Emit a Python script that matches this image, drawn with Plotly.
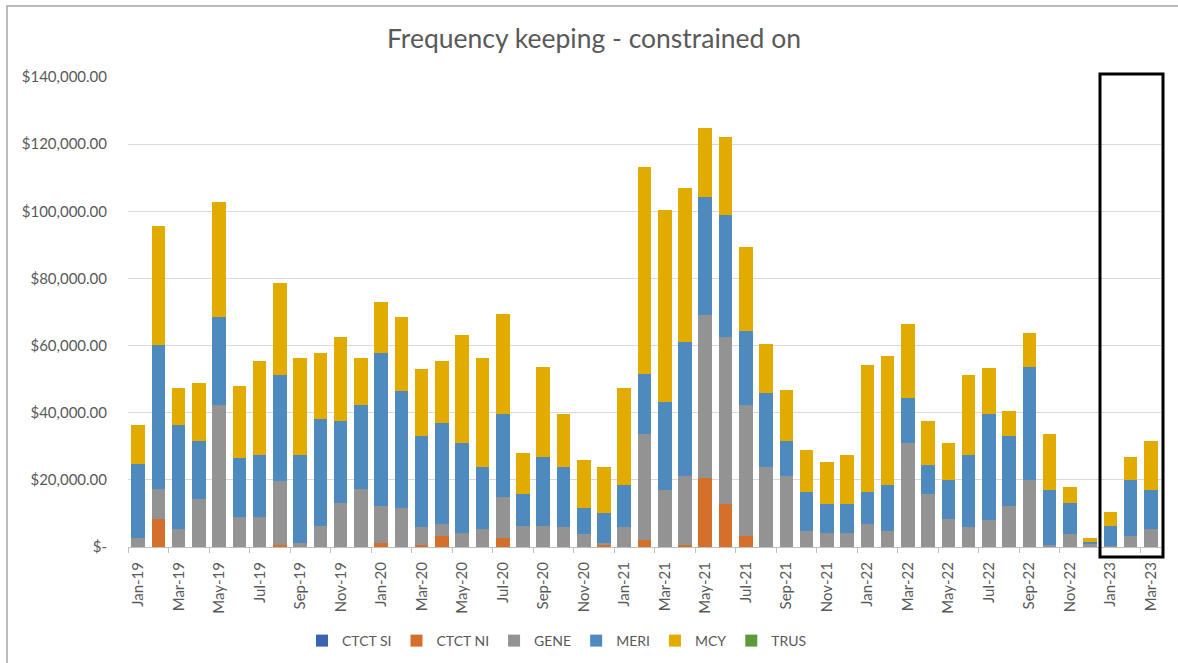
import plotly.graph_objects as go

months = ["Jan-19","Feb-19","Mar-19","Apr-19","May-19","Jun-19","Jul-19","Aug-19","Sep-19","Oct-19","Nov-19","Dec-19",
          "Jan-20","Feb-20","Mar-20","Apr-20","May-20","Jun-20","Jul-20","Aug-20","Sep-20","Oct-20","Nov-20","Dec-20",
          "Jan-21","Feb-21","Mar-21","Apr-21","May-21","Jun-21","Jul-21","Aug-21","Sep-21","Oct-21","Nov-21","Dec-21",
          "Jan-22","Feb-22","Mar-22","Apr-22","May-22","Jun-22","Jul-22","Aug-22","Sep-22","Oct-22","Nov-22","Dec-22",
          "Jan-23","Feb-23","Mar-23"]

ctct_si = [0]*51
ctct_ni = [0, 8400, 0, 0, 0, 0, 0, 600, 0, 0, 0, 0,
           1200, 0, 600, 3200, 0, 0, 2600, 0, 0, 0, 0, 600,
           0, 2200, 0, 600, 20500, 12700, 3200, 0, 0, 0, 0, 0,
           0, 0, 0, 0, 0, 0, 0, 0, 0, 0, 0, 0,
           0, 0, 0]
gene = [2600, 9000, 5300, 14300, 42200, 9000, 9000, 19000, 1200, 6400, 13200, 17400,
        11000, 11600, 5300, 3700, 4300, 5300, 12200, 6300, 6300, 5900, 3800, 500,
        5900, 31600, 16900, 20500, 48500, 49900, 39000, 23800, 21100, 4800, 4300, 4300,
        6900, 4800, 31100, 15900, 8400, 5900, 7900, 12200, 20000, 600, 3800, 800,
        300, 3200, 5300]
meri = [22200, 42700, 31000, 17400, 26300, 17400, 18500, 31500, 26300, 31600, 24300, 24800,
        45700, 34800, 27300, 30100, 26800, 18500, 24700, 9500, 20600, 17900, 7800, 8900,
        12500, 17800, 26300, 40000, 35300, 36300, 22000, 22100, 10600, 11600, 8400, 8400,
        9500, 13600, 13200, 8400, 11600, 21600, 31600, 21000, 33700, 16300, 9400, 800,
        6000, 16800, 11600]
mcy = [11500, 35600, 11100, 17300, 34200, 21600, 27800, 27400, 28800, 19900, 25100, 14100,
       15200, 22100, 19900, 18300, 32000, 32500, 30000, 12200, 26800, 15700, 14300, 13800,
       29000, 61600, 57300, 45700, 20500, 23300, 25300, 14700, 15200, 12600, 12600, 14800,
       37900, 38500, 22000, 13200, 11100, 23600, 13700, 7300, 9900, 16900, 4700, 1100,
       4200, 6900, 14700]
trus = [0]*51

series = [("CTCT SI", ctct_si, "#3A64B0"),
          ("CTCT NI", ctct_ni, "#D4702C"),
          ("GENE", gene, "#939393"),
          ("MERI", meri, "#4F8ABE"),
          ("MCY", mcy, "#E1AB00"),
          ("TRUS", trus, "#5E9A3A")]

ytick_vals = [0, 20000, 40000, 60000, 80000, 100000, 120000, 140000]
ytick_text = ["$-", "$20,000.00", "$40,000.00", "$60,000.00", "$80,000.00",
              "$100,000.00", "$120,000.00", "$140,000.00"]

xs = list(range(len(months)))
fig = go.Figure()
for name, vals, col in series:
    fig.add_trace(go.Bar(x=xs, y=vals, name=name, marker=dict(color=col, line=dict(width=0))))

FONT = "Lato"
L, R, T, B = 128, 17, 77, 116
PW, PH = 1178 - L - R, 663 - T - B

def px_x(px):
    return (px - L) / PW

def px_y(py):
    return (663 - B - py) / PH

fig.update_layout(
    barmode="stack",
    bargap=0.33,
    width=1178, height=663,
    margin=dict(l=L, r=R, t=T, b=B, autoexpand=False),
    paper_bgcolor="white", plot_bgcolor="white",
    font=dict(family=FONT, color="#595959", size=15),
    title=dict(text="Frequency keeping - constrained on", x=594 / 1178, xref="container",
               y=1 - 39 / 663, yref="container", yanchor="middle", xanchor="center",
               font=dict(family=FONT, size=26.5, color="#595959")),
    legend=dict(orientation="h", x=px_x(557), xanchor="center", y=px_y(641), yanchor="middle",
                font=dict(family=FONT, size=14, color="#595959"), itemwidth=30,
                traceorder="normal"),
    showlegend=True,
)
fig.update_xaxes(range=[-0.5, len(months) - 0.5], automargin=False,
                 tickmode="array", tickvals=xs[::2], ticktext=months[::2],
                 tickangle=-90, ticks="", showgrid=False, ticklabelstandoff=8,
                 showline=True, linecolor="#BFBFBF", linewidth=1,
                 minor=dict(tick0=-0.5, dtick=2, ticks="outside", ticklen=5, tickcolor="#BFBFBF", showgrid=False),
                 tickfont=dict(size=15, color="#595959"))
fig.update_yaxes(range=[0, 140000], automargin=False,
                 tickmode="array", tickvals=ytick_vals, ticktext=ytick_text,
                 showgrid=True, gridcolor="#D9D9D9", gridwidth=1, zeroline=False,
                 showline=False, ticks="", ticklabelstandoff=20,
                 tickfont=dict(size=15, color="#595959"))

# outer chart border
fig.add_shape(type="rect", xref="paper", yref="paper",
              x0=px_x(7), x1=px_x(1190), y0=px_y(675), y1=px_y(6),
              line=dict(color="#A6A6A6", width=1.5), fillcolor="rgba(0,0,0,0)", layer="below")
# highlight box
fig.add_shape(type="rect", xref="paper", yref="paper",
              x0=px_x(1100), x1=px_x(1163), y0=px_y(557), y1=px_y(74),
              line=dict(color="black", width=3), fillcolor="rgba(0,0,0,0)")

fig.write_html("out.html", config={"displayModeBar": False},
               post_script="document.body.style.margin='0';document.body.style.overflow='hidden';")
